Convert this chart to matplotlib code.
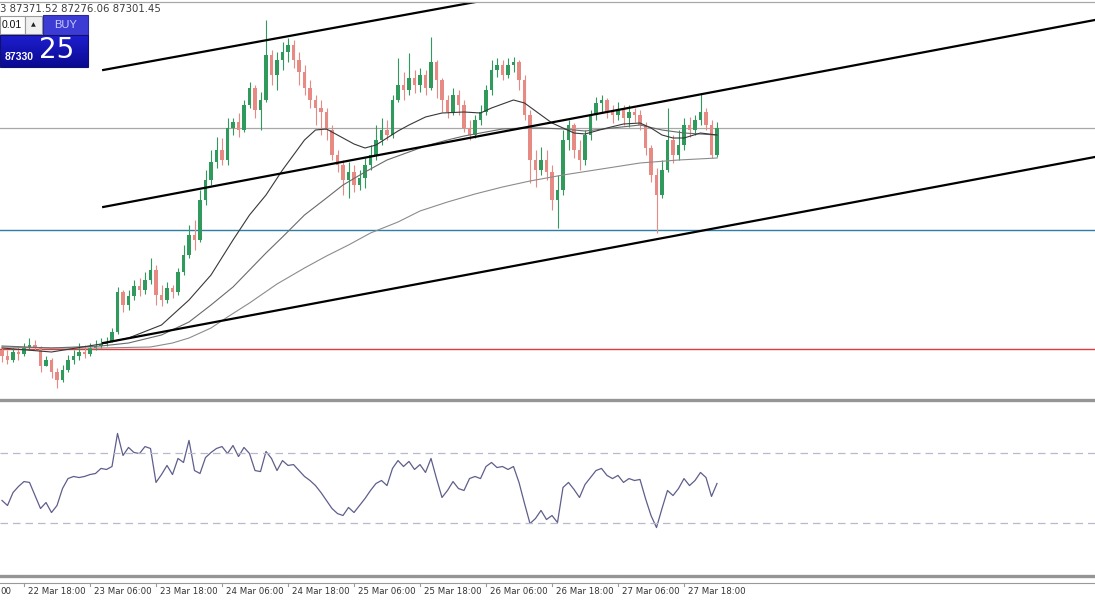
import numpy as np
import matplotlib
matplotlib.use("Agg")
import matplotlib.pyplot as plt

plt.rcParams['font.family'] = ['Liberation Sans', 'DejaVu Sans']

# BTCUSD H1 candles, hour 0 = 22 Mar 18:00
hours = list(range(-4, 127))
first_open = 84000
closes = [83910, 83850, 83970, 83940, 84030, 84075, 84045, 83760, 83850, 83670,
          83550, 83700, 83850, 83910, 83970, 83940, 84030, 84060, 84090, 84120,
          84270, 84870, 84675, 84810, 84960, 84900, 85050, 85200, 84825, 84750,
          84930, 84870, 85170, 85425, 85725, 85650, 86250, 86550, 86820, 87000,
          86850, 87330, 87420, 87300, 87675, 87930, 87600, 87750, 88425, 88125,
          88350, 88470, 88575, 88350, 88170, 87930, 87750, 87630, 87570, 87300,
          86925, 86775, 86550, 86670, 86475, 86580, 86775, 86925, 87150, 87300,
          87225, 87750, 87975, 87900, 88080, 87975, 88125, 87930, 88320, 88050,
          87750, 87570, 87825, 87675, 87330, 87225, 87450, 87570, 87900, 88200,
          88275, 88125, 88275, 88320, 88050, 87525, 86850, 86700, 86850, 86670,
          86250, 86400, 87150, 87375, 87000, 86850, 87225, 87525, 87705, 87750,
          87570, 87525, 87600, 87480, 87570, 87525, 87375, 87030, 86625, 86325,
          86700, 87150, 86925, 87075, 87375, 87300, 87450, 87570, 87375, 86925,
          87330]
highs = [84030, 84000, 84030, 84060, 84105, 84180, 84150, 84060, 83910, 83880,
         83730, 83775, 83925, 84000, 84105, 84075, 84105, 84150, 84180, 84195,
         84330, 84945, 84900, 84900, 85050, 85080, 85170, 85380, 85275, 84975,
         85020, 84975, 85230, 85575, 85875, 85950, 86400, 86700, 87000, 87195,
         87180, 87480, 87480, 87555, 87750, 88020, 87975, 87870, 88950, 88500,
         88470, 88620, 88680, 88650, 88470, 88275, 88050, 87825, 87750, 87630,
         87375, 87000, 86850, 86820, 86775, 86700, 86880, 87075, 87375, 87480,
         87450, 87825, 88380, 88170, 88455, 88200, 88230, 88200, 88695, 88350,
         88080, 87825, 87930, 87900, 87750, 87450, 87525, 87675, 87975, 88350,
         88380, 88350, 88380, 88395, 88350, 88125, 87600, 87000, 87045, 87000,
         86775, 86625, 87300, 87450, 87405, 87150, 87300, 87600, 87795, 87825,
         87780, 87675, 87720, 87675, 87675, 87630, 87600, 87420, 87075, 86730,
         86850, 87630, 87225, 87300, 87480, 87495, 87525, 87855, 87630, 87450,
         87420]
lows = [83820, 83790, 83820, 83850, 83910, 84000, 84000, 83670, 83760, 83580,
        83430, 83520, 83670, 83790, 83850, 83880, 83910, 84000, 84030, 84060,
        84120, 84240, 84570, 84600, 84750, 84810, 84840, 84990, 84675, 84660,
        84705, 84780, 84825, 85125, 85380, 85500, 85620, 86175, 86475, 86730,
        86775, 86775, 87225, 87195, 87270, 87630, 87480, 87300, 87720, 87975,
        87900, 88200, 88320, 88230, 87975, 87825, 87630, 87375, 87225, 87150,
        86850, 86670, 86325, 86280, 86370, 86400, 86430, 86700, 86850, 87075,
        87150, 87180, 87720, 87750, 87825, 87855, 87870, 87825, 87900, 87780,
        87570, 87480, 87525, 87525, 87270, 87150, 87180, 87375, 87525, 87825,
        88095, 88050, 88080, 88170, 87900, 87450, 86505, 86445, 86625, 86550,
        86100, 85830, 86325, 87000, 86880, 86700, 86775, 87150, 87450, 87570,
        87480, 87405, 87450, 87375, 87345, 87420, 87300, 86925, 86520, 85755,
        86280, 86670, 86805, 86850, 87000, 87195, 87225, 87375, 87300, 86880,
        86895]

# RSI(14) per candle
rsi = [42.6, 39.7, 47.1, 50.6, 53.4, 52.9, 45.4, 38.0, 41.4, 35.7,
       39.7, 49.4, 55.1, 56.3, 55.7, 56.3, 57.4, 58.0, 60.9, 60.3,
       62.0, 80.9, 68.3, 72.9, 70.0, 69.4, 73.4, 72.3, 52.9, 57.4,
       62.6, 57.4, 66.6, 64.3, 76.9, 59.7, 58.0, 67.1, 70.0, 72.3,
       73.4, 69.4, 74.0, 67.7, 72.9, 69.4, 59.7, 59.1, 70.6, 66.6,
       59.7, 65.4, 62.6, 63.1, 59.7, 56.3, 54.0, 51.1, 47.1, 42.6,
       38.0, 35.1, 34.0, 38.6, 35.7, 39.7, 43.7, 48.3, 52.3, 54.0,
       51.1, 60.9, 65.4, 62.0, 64.9, 60.3, 63.1, 58.6, 66.6, 55.1,
       44.3, 48.3, 53.4, 49.4, 48.3, 55.1, 56.3, 55.1, 62.0, 64.3,
       61.4, 62.0, 60.3, 62.0, 52.9, 40.9, 29.4, 32.3, 36.9, 31.7,
       34.0, 30.0, 50.0, 52.9, 48.9, 44.3, 51.7, 55.7, 59.7, 60.9,
       56.9, 55.1, 56.9, 52.9, 55.1, 54.0, 54.6, 43.7, 34.0, 27.1,
       38.0, 48.3, 45.4, 49.4, 55.1, 51.1, 54.0, 58.6, 55.7, 44.9,
       52.3]

# moving averages, sampled along each line (hour, price)
ma_fast_h = [-4, 5, 14, 19, 25, 30, 34, 38, 41, 44, 47, 49, 51, 53, 55, 57,
             60, 62, 64, 66, 68, 70, 73, 76, 80, 83, 85, 87, 89, 91, 94, 96,
             98, 100, 102, 104, 106, 109, 112, 114, 116, 118, 120, 123, 126]
ma_fast = [84030, 83970, 84090, 84180, 84375, 84750, 85125, 85650, 86025,
           86325, 86700, 86925, 87150, 87300, 87315, 87225, 87090, 87030,
           87075, 87180, 87285, 87375, 87495, 87555, 87570, 87555, 87630,
           87690, 87750, 87705, 87525, 87405, 87330, 87255, 87240, 87285,
           87330, 87390, 87405, 87330, 87225, 87180, 87180, 87255, 87225]
ma_mid_h = [-4, 5, 14, 19, 25, 30, 34, 38, 41, 44, 47, 51, 55, 58, 62, 66,
            70, 73, 77, 80, 84, 87, 91, 94, 98, 102, 107, 112, 116, 120, 126]
ma_mid = [84060, 84030, 84060, 84105, 84225, 84420, 84675, 84945, 85200,
          85455, 85695, 86025, 86280, 86475, 86670, 86850, 86970, 87060,
          87150, 87210, 87270, 87315, 87330, 87330, 87315, 87285, 87330,
          87375, 87300, 87255, 87225]
ma_slow_h = [-4, 5, 14, 23, 27, 30, 34, 37, 41, 46, 51, 55, 59, 63, 68, 72,
             77, 82, 87, 92, 98, 105, 112, 119, 126]
ma_slow = [84045, 84030, 84030, 84045, 84105, 84180, 84330, 84495, 84705,
           84990, 85230, 85410, 85575, 85755, 85920, 86085, 86220, 86340,
           86445, 86535, 86625, 86715, 86805, 86850, 86880]

tick_hours = [0, 12, 24, 36, 48, 60, 72, 84, 96, 108, 120]
tick_labels = ['22 Mar 18:00', '23 Mar 06:00', '23 Mar 18:00',
               '24 Mar 06:00', '24 Mar 18:00', '25 Mar 06:00', '25 Mar 18:00',
               '26 Mar 06:00', '26 Mar 18:00', '27 Mar 06:00', '27 Mar 18:00']

bid_price = 87330
blue_level = 85800
red_level = 84015
# channel lines: (hour, price) pairs
channel = [((14.4, 88200), (100.0, 89490)),
           ((14.4, 86145), (194.7, 88950)),
           ((14.4, 84105), (194.7, 86895))]
rsi_levels = [30, 70]

W, H = 1095, 600
fig = plt.figure(figsize=(W / 100, H / 100), dpi=100)


def rect(x0, y0, x1, y1):
    return [x0 / W, 1 - y1 / H, (x1 - x0) / W, (y1 - y0) / H]


ax = fig.add_axes(rect(0, 3, W, 398))
ax_rsi = fig.add_axes(rect(0, 400, W, 575), sharex=ax)
ax_t = fig.add_axes(rect(0, 578, W, 600), sharex=ax)
xlim = (-24 / 5.5, (W - 24) / 5.5)

# ---- candles ----
h = np.array(hours, float)
c = np.array(closes, float)
o = np.r_[first_open, c[:-1]]
bull = c >= o
cols = np.where(bull, '#2f9a5c', '#e88a84')
ax.vlines(h, lows, highs, colors=cols, lw=0.8, zorder=3)
ax.bar(h, np.maximum(np.abs(c - o), 12), bottom=np.minimum(o, c), width=0.55,
       color=cols, lw=0, zorder=4)

ax.plot(ma_slow_h, ma_slow, color='#8c8c8c', lw=0.8, zorder=5)
ax.plot(ma_mid_h, ma_mid, color='#6a6a6a', lw=0.8, zorder=5)
ax.plot(ma_fast_h, ma_fast, color='#383838', lw=0.8, zorder=5)

ax.axhline(bid_price, color='#a8a8a8', lw=0.9, zorder=2)
ax.axhline(blue_level, color='#2e7ea6', lw=1.0, zorder=2)
ax.axhline(red_level, color='#e03a3a', lw=1.0, zorder=2)
for (x0, y0), (x1, y1) in channel:
    ax.plot([x0, x1], [y0, y1], color='black', lw=1.6, zorder=6)

ax.set_xlim(*xlim)
ax.set_ylim(83280, 89205)
ax.axis('off')

# ---- RSI ----
ax_rsi.plot(h, rsi, color='#5e5e8c', lw=0.9)
for lv in rsi_levels:
    ax_rsi.axhline(lv, color='#b9b9cc', lw=0.9, dashes=(6, 4))
ax_rsi.set_ylim(0, 100)
ax_rsi.set_facecolor('#fdfcfe')
ax_rsi.axis('off')

# ---- time axis ----
ax_t.set_ylim(0, 1)
ax_t.axhline(0.77, color='#9a9a9a', lw=0.8)
lab_font = ['Liberation Sans Narrow', 'DejaVu Sans']
for th, lab in zip(tick_hours, tick_labels):
    ax_t.plot([th, th], [0.77, 0.62], color='#9a9a9a', lw=0.8)
    ax_t.text(th + 0.75, 0.38, lab, fontsize=6.2, color='#333333',
              family=lab_font, ha='left', va='center')
# tail of the "22 Mar 06:00" label, mostly off the left edge
ax_t.text(-4.3, 0.38, '00', fontsize=6.2, color='#333333', family=lab_font,
          ha='left', va='center')
ax_t.axis('off')

# ---- overlay: frame lines and one-click panel ----
ov = fig.add_axes([0, 0, 1, 1], zorder=10)
ov.set_xlim(0, W)
ov.set_ylim(H, 0)
ov.axis('off')
ov.patch.set_alpha(0)
ov.plot([0, W], [2, 2], color='#a8a8a8', lw=0.9)
ov.plot([0, W], [399.5, 399.5], color='#959595', lw=2.4)
ov.plot([0, W], [575.5, 575.5], color='#959595', lw=2.4)

ov.text(0, 9, '3 87371.52 87276.06 87301.45', fontsize=7.3, color='#3c3c3c',
        family=lab_font, ha='left', va='center')

ov.add_patch(plt.Rectangle((0, 16), 25, 18, fc='white', ec='#9a9a9a', lw=0.8))
ov.text(1.5, 25.5, '0.01', fontsize=7.5, color='#111111', ha='left', va='center')
ov.add_patch(plt.Rectangle((25, 16), 17, 18, fc='#f0f0f0', ec='#9a9a9a', lw=0.8))
ov.text(33.5, 25, '\u25b2', fontsize=4.5, color='#222222', ha='center', va='center',
        family=['DejaVu Sans'])
ov.add_patch(plt.Rectangle((43, 15), 45, 20, fc='#3c3cd4', ec='#2a2aa0', lw=0.8))
ov.text(65.5, 25.5, 'BUY', fontsize=8, color='#c8ccff', ha='center', va='center')
grad = np.linspace(0, 1, 50).reshape(-1, 1)
ov.imshow(grad, extent=[0, 88, 67, 35], cmap=matplotlib.colors.LinearSegmentedColormap.from_list(
    'b', ['#1e1ed0', '#0a0a92']), aspect='auto', zorder=1)
ov.add_patch(plt.Rectangle((0, 35), 88, 32, fc='none', ec='#101070', lw=0.8, zorder=2))
ov.text(5, 56.5, '87330', fontsize=7.5, fontweight='bold', color='white',
        ha='left', va='center', zorder=3)
ov.text(39, 50.5, '25', fontsize=20, color='white', ha='left', va='center',
        family=lab_font, zorder=3)
ov.set_xlim(0, W)
ov.set_ylim(H, 0)

fig.savefig('out.png', dpi=100)
